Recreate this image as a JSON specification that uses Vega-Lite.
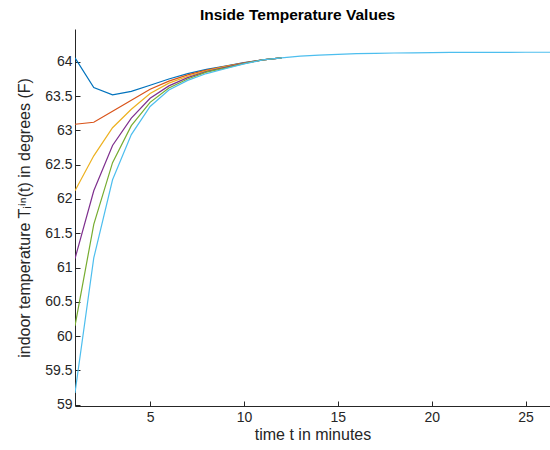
{
  "$schema": "https://vega.github.io/schema/vega-lite/v6.json",
  "width": 475,
  "height": 377,
  "autosize": {"type": "none"},
  "padding": {"left": 75, "top": 29, "right": 0, "bottom": 44},
  "background": "white",
  "title": {"text": "Inside Temperature Values", "font": "Liberation Sans", "fontSize": 15.5, "fontWeight": "bold", "color": "#000000", "anchor": "middle", "offset": 6, "dx": -15},
  "config": {
    "view": {"stroke": null},
    "axis": {"domainColor": "#262626", "tickColor": "#262626", "labelColor": "#262626", "titleColor": "#262626", "labelFont": "Liberation Sans", "titleFont": "Liberation Sans", "labelFontSize": 14, "titleFontSize": 16, "titleFontWeight": "normal", "grid": false, "tickSize": -5, "domainWidth": 1, "tickWidth": 1}
  },
  "data": {"values": [
    {"t":1,"s":"s1","v":64.06},{"t":2,"s":"s1","v":63.625},{"t":3,"s":"s1","v":63.52},{"t":4,"s":"s1","v":63.57},{"t":5,"s":"s1","v":63.66},{"t":6,"s":"s1","v":63.75},{"t":7,"s":"s1","v":63.83},{"t":8,"s":"s1","v":63.89},{"t":9,"s":"s1","v":63.94},{"t":10,"s":"s1","v":63.99},{"t":11,"s":"s1","v":64.03},{"t":12,"s":"s1","v":64.06},
    {"t":1,"s":"s2","v":63.09},{"t":2,"s":"s2","v":63.12},{"t":3,"s":"s2","v":63.28},{"t":4,"s":"s2","v":63.44},{"t":5,"s":"s2","v":63.6},{"t":6,"s":"s2","v":63.72},{"t":7,"s":"s2","v":63.81},{"t":8,"s":"s2","v":63.88},{"t":9,"s":"s2","v":63.935},{"t":10,"s":"s2","v":63.985},{"t":11,"s":"s2","v":64.03},{"t":12,"s":"s2","v":64.06},
    {"t":1,"s":"s3","v":62.12},{"t":2,"s":"s3","v":62.63},{"t":3,"s":"s3","v":63.04},{"t":4,"s":"s3","v":63.31},{"t":5,"s":"s3","v":63.54},{"t":6,"s":"s3","v":63.69},{"t":7,"s":"s3","v":63.79},{"t":8,"s":"s3","v":63.87},{"t":9,"s":"s3","v":63.93},{"t":10,"s":"s3","v":63.98},{"t":11,"s":"s3","v":64.03},{"t":12,"s":"s3","v":64.06},
    {"t":1,"s":"s4","v":61.13},{"t":2,"s":"s4","v":62.12},{"t":3,"s":"s4","v":62.78},{"t":4,"s":"s4","v":63.18},{"t":5,"s":"s4","v":63.47},{"t":6,"s":"s4","v":63.65},{"t":7,"s":"s4","v":63.77},{"t":8,"s":"s4","v":63.86},{"t":9,"s":"s4","v":63.92},{"t":10,"s":"s4","v":63.98},{"t":11,"s":"s4","v":64.03},{"t":12,"s":"s4","v":64.06},
    {"t":1,"s":"s5","v":60.15},{"t":2,"s":"s5","v":61.63},{"t":3,"s":"s5","v":62.53},{"t":4,"s":"s5","v":63.07},{"t":5,"s":"s5","v":63.41},{"t":6,"s":"s5","v":63.62},{"t":7,"s":"s5","v":63.75},{"t":8,"s":"s5","v":63.85},{"t":9,"s":"s5","v":63.91},{"t":10,"s":"s5","v":63.975},{"t":11,"s":"s5","v":64.03},{"t":12,"s":"s5","v":64.06},
    {"t":1,"s":"s6","v":59.17},{"t":2,"s":"s6","v":61.14},{"t":3,"s":"s6","v":62.28},{"t":4,"s":"s6","v":62.94},{"t":5,"s":"s6","v":63.35},{"t":6,"s":"s6","v":63.59},{"t":7,"s":"s6","v":63.73},{"t":8,"s":"s6","v":63.83},{"t":9,"s":"s6","v":63.9},{"t":10,"s":"s6","v":63.97},
    {"t":11,"s":"s6","v":64.03},{"t":12,"s":"s6","v":64.06},{"t":13,"s":"s6","v":64.085},{"t":14,"s":"s6","v":64.1},{"t":15,"s":"s6","v":64.11},{"t":16,"s":"s6","v":64.12},{"t":17,"s":"s6","v":64.125},{"t":18,"s":"s6","v":64.13},{"t":19,"s":"s6","v":64.133},{"t":20,"s":"s6","v":64.136},{"t":21,"s":"s6","v":64.138},{"t":22,"s":"s6","v":64.139},{"t":23,"s":"s6","v":64.14},{"t":24,"s":"s6","v":64.14},{"t":25,"s":"s6","v":64.141},{"t":26,"s":"s6","v":64.141},{"t":27,"s":"s6","v":64.141}
  ]},
  "mark": {"type": "line", "strokeWidth": 1.2, "clip": true},
  "encoding": {
    "x": {"field": "t", "type": "quantitative", "scale": {"domain": [1, 26.3], "nice": false, "zero": false}, "axis": {"title": "time t in minutes", "values": [5, 10, 15, 20, 25], "labelPadding": 9, "titlePadding": 2}},
    "y": {"field": "v", "type": "quantitative", "scale": {"domain": [58.98, 64.48], "nice": false, "zero": false}, "axis": {"title": "indoor temperature Tᵢⁱⁿ(t) in degrees (F)", "values": [59, 59.5, 60, 60.5, 61, 61.5, 62, 62.5, 63, 63.5, 64], "format": ".1~f", "labelPadding": 8, "titlePadding": 12}},
    "color": {"field": "s", "type": "nominal", "scale": {"domain": ["s1","s2","s3","s4","s5","s6"], "range": ["#0072BD","#D95319","#EDB120","#7E2F8E","#77AC30","#4DBEEE"]}, "legend": null},
    "order": {"field": "t", "type": "quantitative"}
  }
}
